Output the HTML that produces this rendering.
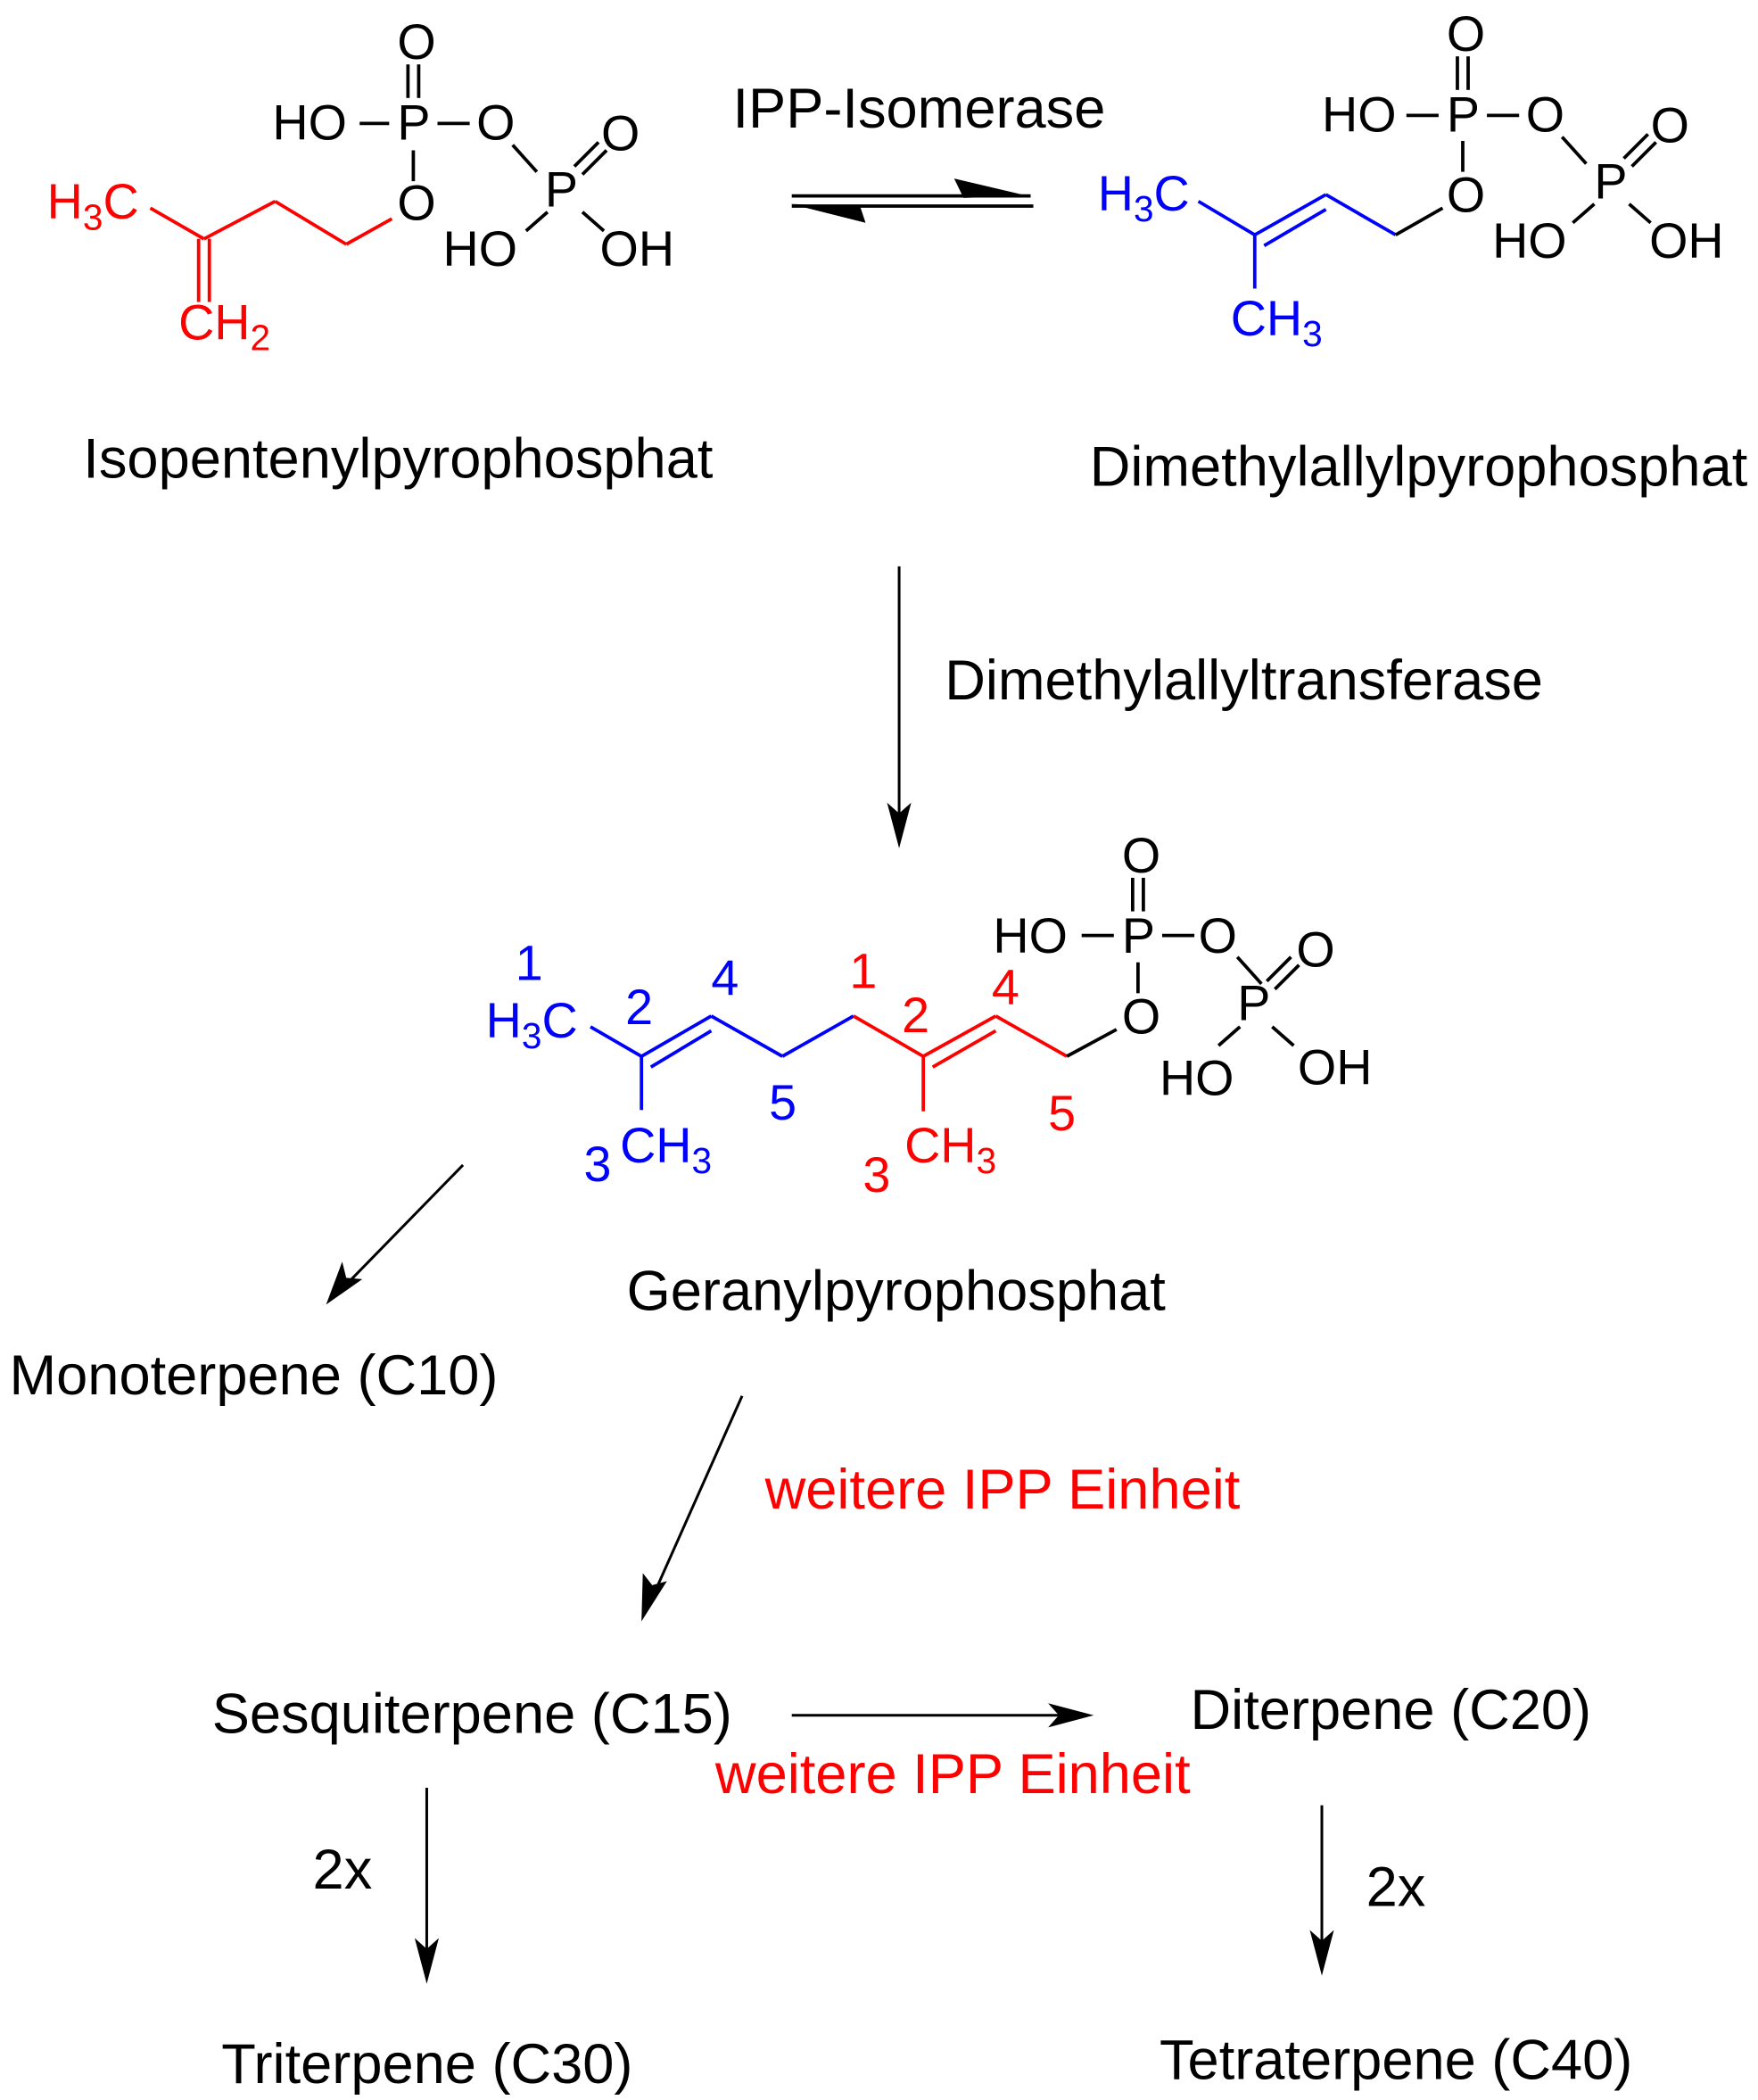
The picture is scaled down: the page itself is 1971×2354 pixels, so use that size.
<!DOCTYPE html>
<html><head><meta charset="utf-8"><style>
html,body{margin:0;padding:0;background:#fff;}
svg{display:block;}
text{font-family:"Liberation Sans",Arial,sans-serif;}
</style></head><body>
<svg width="1971" height="2354" viewBox="0 0 1310 1564.6" preserveAspectRatio="none" xmlns="http://www.w3.org/2000/svg">
<g stroke-width="2.5" fill="none" stroke-linecap="butt">
<g stroke="#f00">
<line x1="112" y1="155" x2="152" y2="178"/>
<line x1="148" y1="178" x2="148" y2="225"/>
<line x1="156" y1="178" x2="156" y2="225"/>
<line x1="152" y1="178" x2="205" y2="150"/>
<line x1="205" y1="150" x2="258" y2="182"/>
<line x1="258" y1="182" x2="292" y2="163"/>
</g>
<g stroke="#000">
<line x1="308" y1="112" x2="308" y2="135"/>
<line x1="304" y1="48" x2="304" y2="73"/>
<line x1="312" y1="48" x2="312" y2="73"/>
<line x1="268" y1="92" x2="290" y2="92"/>
<line x1="326" y1="92" x2="350" y2="92"/>
<line x1="382" y1="108" x2="400" y2="128"/>
<line x1="428" y1="124" x2="446" y2="106"/>
<line x1="434" y1="130" x2="452" y2="112"/>
<line x1="408" y1="158" x2="392" y2="172"/>
<line x1="434" y1="158" x2="450" y2="172"/>
</g>
<g stroke="#00f">
<line x1="893" y1="150" x2="935" y2="175"/>
<line x1="935" y1="175" x2="935" y2="215"/>
<line x1="935" y1="175" x2="988" y2="145"/>
<line x1="942" y1="183" x2="988" y2="156"/>
<line x1="988" y1="145" x2="1040" y2="175"/>
</g>
<g stroke="#000">
<line x1="1040" y1="175" x2="1075" y2="155"/>
<line x1="1090" y1="105" x2="1090" y2="128"/>
<line x1="1086" y1="42" x2="1086" y2="67"/>
<line x1="1094" y1="42" x2="1094" y2="67"/>
<line x1="1048" y1="86" x2="1072" y2="86"/>
<line x1="1108" y1="86" x2="1132" y2="86"/>
<line x1="1164" y1="102" x2="1182" y2="122"/>
<line x1="1210" y1="118" x2="1228" y2="100"/>
<line x1="1216" y1="124" x2="1234" y2="106"/>
<line x1="1188" y1="152" x2="1172" y2="166"/>
<line x1="1214" y1="152" x2="1230" y2="166"/>
</g>
<g stroke="#00f">
<line x1="440" y1="765" x2="478" y2="787"/>
<line x1="478" y1="787" x2="478" y2="827"/>
<line x1="478" y1="787" x2="530" y2="757"/>
<line x1="485" y1="795" x2="530" y2="768"/>
<line x1="530" y1="757" x2="583" y2="787"/>
<line x1="583" y1="787" x2="636" y2="757"/>
</g>
<g stroke="#f00">
<line x1="636" y1="757" x2="688" y2="787"/>
<line x1="688" y1="787" x2="688" y2="828"/>
<line x1="688" y1="787" x2="742" y2="757"/>
<line x1="695" y1="795" x2="742" y2="768"/>
<line x1="742" y1="757" x2="795" y2="787"/>
</g>
<g stroke="#000">
<line x1="795" y1="787" x2="832" y2="767"/>
<line x1="848" y1="717" x2="848" y2="740"/>
<line x1="844" y1="654" x2="844" y2="679"/>
<line x1="852" y1="654" x2="852" y2="679"/>
<line x1="806" y1="697" x2="830" y2="697"/>
<line x1="866" y1="697" x2="890" y2="697"/>
<line x1="922" y1="713" x2="940" y2="733"/>
<line x1="944" y1="731" x2="962" y2="713"/>
<line x1="950" y1="737" x2="968" y2="719"/>
<line x1="924" y1="765" x2="908" y2="779"/>
<line x1="948" y1="765" x2="964" y2="779"/>
</g>
<g stroke="#000">
<line x1="590" y1="146" x2="768" y2="146"/>
<line x1="590" y1="153.5" x2="770" y2="153.5"/>
</g>
<g stroke="#000" stroke-width="2">
<line x1="670" y1="422" x2="670" y2="610"/>
<line x1="345" y1="868" x2="262" y2="953"/>
<line x1="553" y1="1040" x2="488" y2="1186"/>
<line x1="590" y1="1278" x2="795" y2="1278"/>
<line x1="318" y1="1332" x2="318" y2="1455"/>
<line x1="985" y1="1345" x2="985" y2="1450"/>
</g>
</g>
<g fill="#000">
<polygon points="711,133 766,146 718,147.5"/>
<polygon points="589.5,152 645,166 641,154"/>
<polygon points="670,632 661,598 670,606 679,598"/>
<polygon points="243,972 255,940 258,952 270,953"/>
<polygon points="478,1208 479,1172 486,1181 497,1178"/>
<polygon points="815,1278 781,1269 789,1278 781,1287"/>
<polygon points="318,1478 309,1444 318,1452 327,1444"/>
<polygon points="985,1472 976,1438 985,1446 994,1438"/>
</g>
<g font-size="37" fill="#000">
<text x="35" y="163" fill="#f00">H<tspan font-size="27" dy="8">3</tspan><tspan dy="-8">C</tspan></text>
<text x="133" y="253" fill="#f00">CH<tspan font-size="27" dy="8">2</tspan></text>
<text x="296" y="164">O</text>
<text x="296" y="104">P</text>
<text x="296" y="44">O</text>
<text x="203" y="104">HO</text>
<text x="355" y="104">O</text>
<text x="406" y="154">P</text>
<text x="448" y="112">O</text>
<text x="330" y="198">HO</text>
<text x="447" y="198">OH</text>

<text x="818" y="157" fill="#00f">H<tspan font-size="27" dy="8">3</tspan><tspan dy="-8">C</tspan></text>
<text x="917" y="250" fill="#00f">CH<tspan font-size="27" dy="8">3</tspan></text>
<text x="1078" y="158">O</text>
<text x="1078" y="98">P</text>
<text x="1078" y="38">O</text>
<text x="985" y="98">HO</text>
<text x="1137" y="98">O</text>
<text x="1188" y="148">P</text>
<text x="1230" y="106">O</text>
<text x="1112" y="192">HO</text>
<text x="1229" y="192">OH</text>

<text x="362" y="773" fill="#00f">H<tspan font-size="27" dy="8">3</tspan><tspan dy="-8">C</tspan></text>
<text x="462" y="866" fill="#00f">CH<tspan font-size="27" dy="8">3</tspan></text>
<text x="674" y="866" fill="#f00">CH<tspan font-size="27" dy="8">3</tspan></text>
<text x="836" y="770">O</text>
<text x="836" y="710">P</text>
<text x="836" y="650">O</text>
<text x="740" y="710">HO</text>
<text x="893" y="710">O</text>
<text x="922" y="760">P</text>
<text x="966" y="720">O</text>
<text x="864" y="816">HO</text>
<text x="967" y="808">OH</text>
<g fill="#00f"><text x="384" y="730">1</text><text x="466" y="763">2</text><text x="530" y="741">4</text><text x="573" y="834">5</text><text x="435" y="880">3</text></g>
<g fill="#f00"><text x="633" y="736">1</text><text x="672" y="769">2</text><text x="739" y="748">4</text><text x="781" y="842">5</text><text x="643" y="888">3</text></g>
</g>
<g font-size="42" fill="#000">
<text x="546" y="95">IPP-Isomerase</text>
<text x="62" y="356">Isopentenylpyrophosphat</text>
<text x="812" y="362">Dimethylallylpyrophosphat</text>
<text x="704" y="521">Dimethylallyltransferase</text>
<text x="467" y="976">Geranylpyrophosphat</text>
<text x="7" y="1039">Monoterpene (C10)</text>
<text x="570" y="1124" fill="#f00">weitere IPP Einheit</text>
<text x="158" y="1291">Sesquiterpene (C15)</text>
<text x="887" y="1288">Diterpene (C20)</text>
<text x="533" y="1336" fill="#f00">weitere IPP Einheit</text>
<text x="233" y="1407">2x</text>
<text x="1018" y="1420">2x</text>
<text x="165" y="1552">Triterpene (C30)</text>
<text x="864" y="1549">Tetraterpene (C40)</text>
</g>
</svg>
</body></html>
